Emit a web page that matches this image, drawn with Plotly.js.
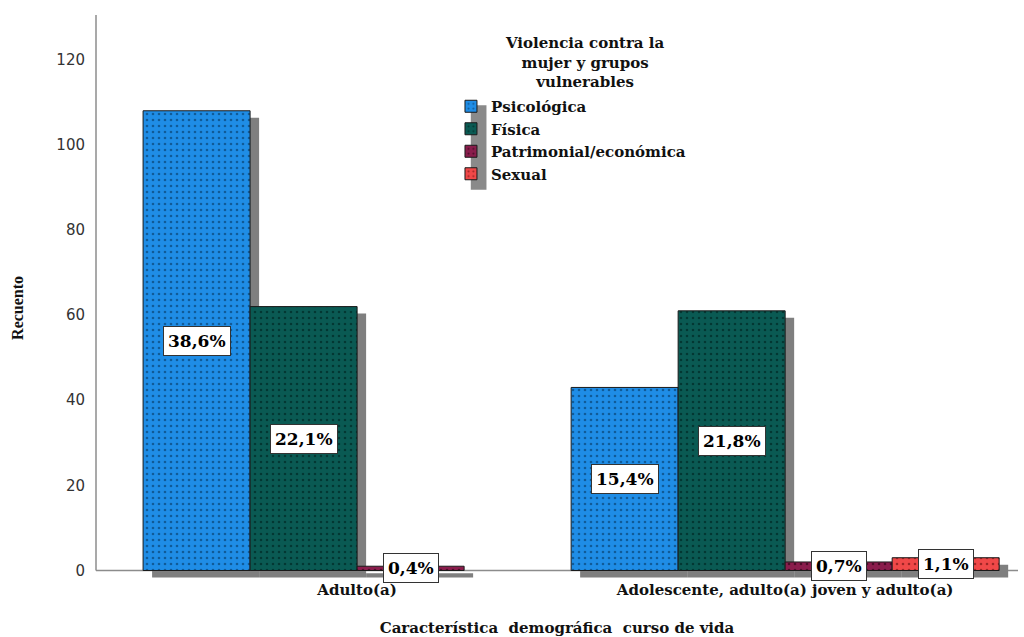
<!DOCTYPE html>
<html><head><meta charset="utf-8">
<script src="https://cdn.plot.ly/plotly-3.0.1.min.js"></script>
<style>body{margin:0;background:#fff}#chart{width:1024px;height:637px}</style>
</head><body><div id="chart"></div>
<script>
const categories = ['Adulto(a)', 'Adolescente, adulto(a) joven y adulto(a)'];
const seriesNames = ['Psicológica', 'Física', 'Patrimonial/económica', 'Sexual'];
const psicologica = [108, 43];
const fisica = [62, 61];
const patrimonial = [1, 2];
const sexual = [0, 3];
const yTicks = [0, 20, 40, 60, 80, 100, 120];
const legendTitle = 'Violencia contra la<br>mujer y grupos<br>vulnerables';

const seriesValues = [psicologica, fisica, patrimonial, sexual];
const colors = ['#1f8de6', '#0a5a53', '#8a1d4c', '#f04848'];
const dotColors = ['#0d4f85', '#01302b', '#3d0820', '#8a1e1e'];
const total = seriesValues.flat().reduce((a, b) => a + b, 0);
const serif = 'DejaVu Serif';

const traces = seriesValues.map((vals, s) => ({
  type: 'bar',
  name: seriesNames[s],
  x: categories,
  y: vals.map(v => v > 0 ? v : null),
  marker: {
    color: colors[s],
    line: {color: '#1a1a1a', width: 1},
    pattern: {shape: '.', size: 6, solidity: 0.15, fgcolor: dotColors[s], fgopacity: 0.8, fillmode: 'overlay'}
  },
  hoverinfo: 'skip'
}));

const nS = seriesValues.length;
const bw = 1 / nS;
const offsets = seriesValues.map((_, s) => -0.5 + bw * (s + 0.5));
const dx = 9 / 428, dy = 1.65;

const shapes = [
  {type: 'line', xref: 'paper', yref: 'y', x0: 0, x1: 1, y0: 0, y1: 0, line: {color: '#8c8c8c', width: 1.5}, layer: 'between'},
  {type: 'line', xref: 'paper', yref: 'y', x0: 0, x1: 0, y0: 0, y1: 130.5, line: {color: '#8c8c8c', width: 1.5}, layer: 'between'},
  // legend swatch shadow
  {type: 'rect', xref: 'paper', yref: 'paper', x0: 0.4065, x1: 0.4235, y0: 0.69, y1: 0.84, fillcolor: '#8a8a8a', line: {width: 0}, layer: 'below'}
];
const annotations = [];
seriesValues.forEach((vals, s) => {
  vals.forEach((v, j) => {
    if (!(v > 0)) return;
    const xc = j + offsets[s];
    shapes.push({type: 'rect', xref: 'x', yref: 'y', x0: xc - bw / 2 + dx, x1: xc + bw / 2 + dx, y0: -dy, y1: v - dy,
      fillcolor: '#7f7f7f', line: {width: 0}, layer: 'between'});
    annotations.push({x: xc, y: v / 2, xref: 'x', yref: 'y', showarrow: false,
      text: (v / total * 100).toFixed(1).replace('.', ',') + '%',
      font: {family: serif, size: 17, color: '#000', weight: 'bold'},
      bgcolor: '#fff', bordercolor: '#333', borderwidth: 1, borderpad: 4});
  });
});
annotations.push({x: 0.53, y: 0.97, xref: 'paper', yref: 'paper', xanchor: 'center', yanchor: 'top',
  showarrow: false, text: legendTitle, align: 'center',
  font: {family: serif, size: 15, color: '#111', weight: 'bold'}});
annotations.push({x: -0.085, y: 0.48, xref: 'paper', yref: 'paper', xanchor: 'center', yanchor: 'middle',
  showarrow: false, text: 'Recuento', textangle: -90,
  font: {family: 'Liberation Serif', size: 16, color: '#111', weight: 'bold'}});

const layout = {
  width: 1024, height: 637,
  margin: {l: 96, r: 6, t: 15, b: 57.5},
  paper_bgcolor: '#fff', plot_bgcolor: '#fff',
  barmode: 'group', bargap: 0, bargroupgap: 0,
  showlegend: true,
  legend: {
    x: 0.385, y: 0.867, xanchor: 'left', yanchor: 'top',
    bgcolor: 'rgba(0,0,0,0)',
    font: {family: serif, size: 15, color: '#111', weight: 'bold'},
    tracegroupgap: 0, itemwidth: 30
  },
  xaxis: {
    type: 'category', range: [-0.61, 1.544], showgrid: false, zeroline: false, showline: false,
    ticks: '', tickfont: {family: serif, size: 15, color: '#111', weight: 'bold'},
    title: {text: 'Característica  demográfica  curso de vida', standoff: 24,
      font: {family: serif, size: 15, color: '#111', weight: 'bold'}},
    automargin: false, fixedrange: true
  },
  yaxis: {
    range: [-2, 130.5], tickvals: yTicks, showgrid: false, zeroline: false, showline: false,
    ticks: '', ticklabelstandoff: 10,
    tickfont: {family: 'DejaVu Sans', size: 15, color: '#333'},
    automargin: false, fixedrange: true
  },
  shapes: shapes,
  annotations: annotations
};

Plotly.newPlot('chart', traces, layout, {displayModeBar: false, staticPlot: true});
</script></body></html>
